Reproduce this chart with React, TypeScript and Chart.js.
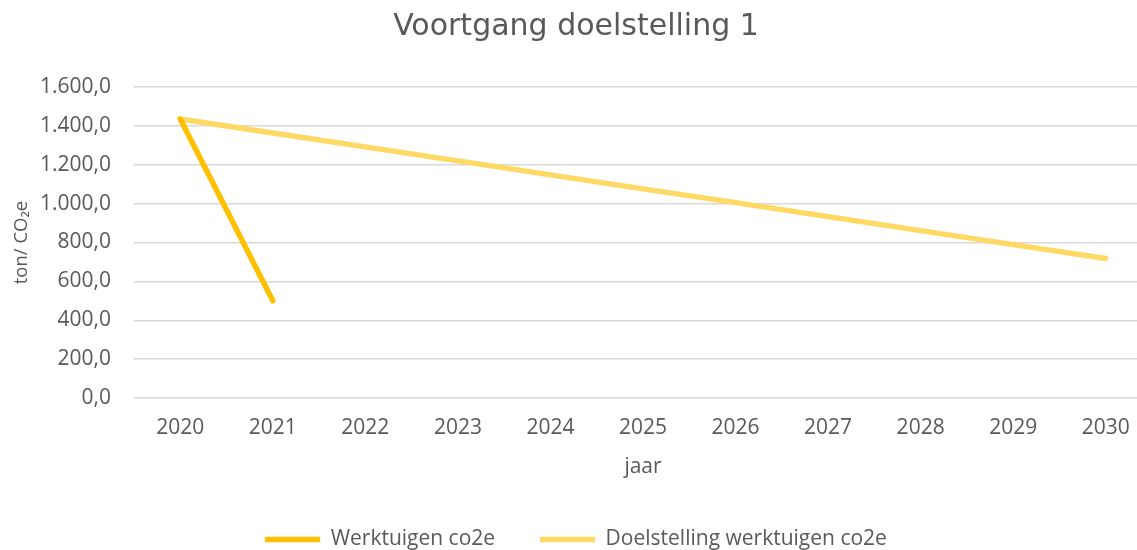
import React, { useEffect, useRef } from "react";
import { Chart, registerables } from "chart.js";

Chart.register(...registerables);

const years = ["2020", "2021", "2022", "2023", "2024", "2025", "2026", "2027", "2028", "2029", "2030"];
const werktuigen = [1435, 500, null, null, null, null, null, null, null, null, null];
const doelstelling = [1435, 1363, 1292, 1220, 1148, 1076, 1005, 933, 861, 789, 718];
const yTicks = [0, 200, 400, 600, 800, 1000, 1200, 1400, 1600];

const TEXT = "#595959";
const FONT = "'Open Sans', sans-serif";

function fmt(v: number): string {
  const fixed = Math.abs(v).toFixed(1);
  const [int, dec] = fixed.split(".");
  const withDots = int.replace(/\B(?=(\d{3})+(?!\d))/g, ".");
  return (v < 0 ? "-" : "") + withDots + "," + dec;
}

export default function App() {
  const ref = useRef<HTMLCanvasElement | null>(null);

  useEffect(() => {
    if (!ref.current) return;
    const chart = new Chart(ref.current, {
      type: "line",
      data: {
        labels: years,
        datasets: [
          {
            label: "Werktuigen co2e",
            data: werktuigen,
            borderColor: "#FFC000",
            backgroundColor: "#FFC000",
            borderWidth: 5.5,
            borderCapStyle: "round",
            borderJoinStyle: "round",
            pointRadius: 0,
            spanGaps: false,
            order: 0,
          },
          {
            label: "Doelstelling werktuigen co2e",
            data: doelstelling,
            borderColor: "#FFD966",
            backgroundColor: "#FFD966",
            borderWidth: 5.5,
            borderCapStyle: "round",
            borderJoinStyle: "round",
            pointRadius: 0,
            order: 1,
          },
        ],
      },
      options: {
        responsive: false,
        animation: false,
        layout: { padding: { left: 0, right: 0, top: 0, bottom: 0 } },
        plugins: {
          title: {
            display: true,
            text: "Voortgang doelstelling 1",
            color: TEXT,
            font: { family: "'DejaVu Sans', sans-serif", size: 30, weight: "400" },
            padding: { top: 9.5, bottom: 41.5 },
          },
          legend: {
            position: "bottom",
            labels: {
              color: TEXT,
              font: { family: FONT, size: 21 },
              usePointStyle: true,
              pointStyle: "line",
              pointStyleWidth: 55,
              padding: 45,
            },
          },
          tooltip: { enabled: false },
        },
        scales: {
          x: {
            type: "category",
            offset: true,
            grid: { display: false, drawTicks: false },
            border: { display: false },
            ticks: {
              color: TEXT,
              font: { family: FONT, size: 21 },
              padding: 17.5,
              maxRotation: 0,
            },
            title: {
              display: true,
              text: "jaar",
              color: TEXT,
              font: { family: FONT, size: 21 },
              padding: { top: 10, bottom: 4.4 },
            },
            afterFit: (scale: any) => {
              scale.height = 86;
            },
          },
          y: {
            min: 0,
            max: 1600,
            afterBuildTicks: (scale: any) => {
              scale.ticks = yTicks.map((v) => ({ value: v }));
            },
            grid: { color: "#D9D9D9", lineWidth: 1.5, drawTicks: false },
            border: { display: false },
            ticks: {
              color: TEXT,
              font: { family: FONT, size: 21 },
              padding: 23,
              callback: (v: any) => fmt(Number(v)),
            },
            title: {
              display: true,
              text: "ton/ CO₂e",
              color: TEXT,
              font: { family: FONT, size: 18.5 },
              padding: { top: 10.4, bottom: 0 },
            },
            afterFit: (scale: any) => {
              scale.width = 134;
            },
          },
        },
      },
    });
    return () => chart.destroy();
  }, []);

  return (
    <div style={{ position: "absolute", left: 0, top: 0, width: 1137, height: 550, overflow: "hidden", background: "#fff" }}>
      <canvas ref={ref} width={1152} height={560} style={{ display: "block", width: 1152, height: 560 }} />
    </div>
  );
}
